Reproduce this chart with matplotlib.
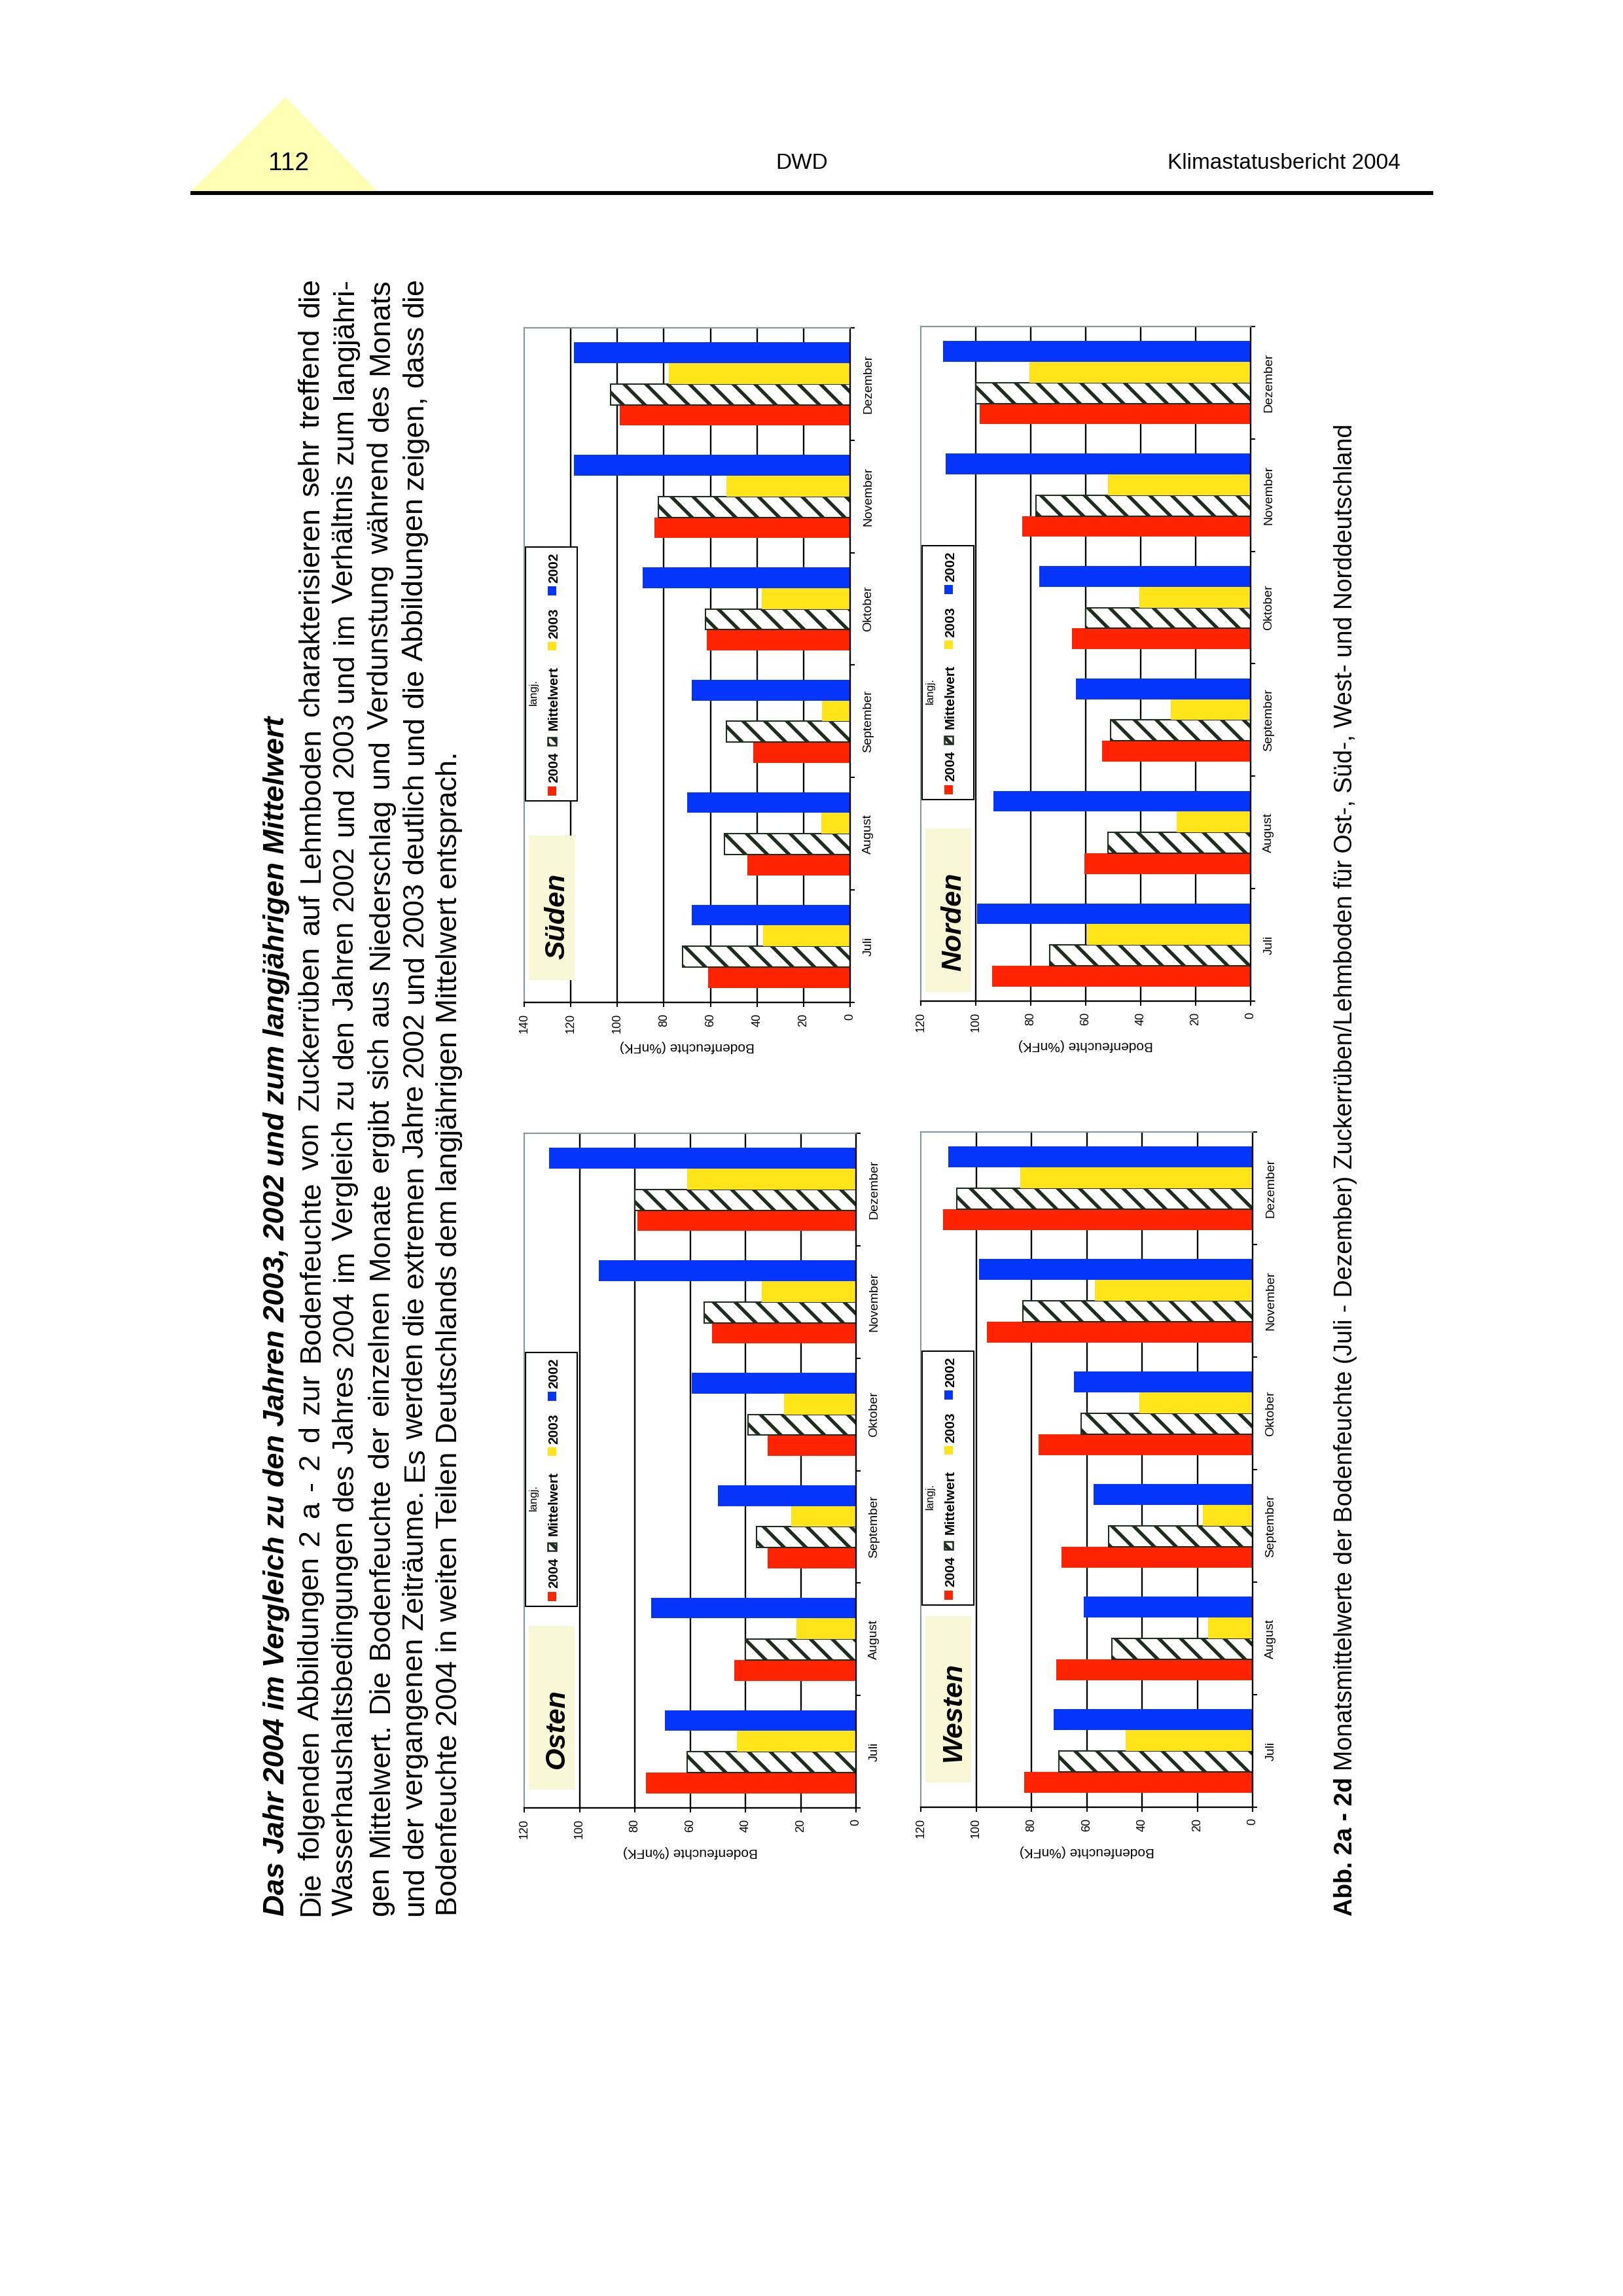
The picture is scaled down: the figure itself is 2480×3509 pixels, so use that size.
import matplotlib
matplotlib.use('Agg')
import matplotlib.pyplot as plt
import numpy as np
from matplotlib.patches import Rectangle, Polygon

# ---------------- data ----------------
months = ['Juli', 'August', 'September', 'Oktober', 'November', 'Dezember']
series_labels = ['2004', 'Mittelwert', '2003', '2002']

osten_2004 = [76, 44, 32, 32, 52, 79]
osten_mittel = [61, 40, 36, 39, 55, 80]
osten_2003 = [43, 21.5, 23.5, 26, 34, 61]
osten_2002 = [69, 74, 50, 59.5, 93, 111]

sueden_2004 = [61, 44, 41.5, 61.5, 84, 99]
sueden_mittel = [72, 54, 53, 62, 82.5, 103]
sueden_2003 = [37.5, 12.5, 12, 38, 53, 78]
sueden_2002 = [68, 70, 68, 89, 118.5, 118.5]

westen_2004 = [82.5, 71, 69, 77.5, 96, 112]
westen_mittel = [70, 51, 52, 62, 83, 107]
westen_2003 = [46, 16, 18, 41, 57, 84]
westen_2002 = [72, 61, 57.5, 64.5, 99, 110]

norden_2004 = [94, 60.5, 54, 65, 83, 98.5]
norden_mittel = [73, 52, 51, 60, 78, 100]
norden_2003 = [59.5, 27, 29, 40.5, 52, 80.5]
norden_2002 = [99.5, 93.5, 63.5, 77, 111, 112]

ticks_120 = [0, 20, 40, 60, 80, 100, 120]
ticks_140 = [0, 20, 40, 60, 80, 100, 120, 140]

header_left = '112'
header_mid = 'DWD'
header_right = 'Klimastatusbericht 2004'
title = 'Das Jahr 2004 im Vergleich zu den Jahren 2003, 2002 und zum langjährigen Mittelwert'
body_lines = [
    'Die folgenden Abbildungen 2 a - 2 d zur Bodenfeuchte von Zuckerrüben auf Lehmboden charakterisieren sehr treffend die',
    'Wasserhaushaltsbedingungen des Jahres 2004 im Vergleich zu den Jahren 2002 und 2003 und im Verhältnis zum langjähri-',
    'gen Mittelwert. Die Bodenfeuchte der einzelnen Monate ergibt sich aus Niederschlag und Verdunstung während des Monats',
    'und der vergangenen Zeiträume. Es werden die extremen Jahre 2002 und 2003 deutlich und die Abbildungen zeigen, dass die',
    'Bodenfeuchte 2004 in weiten Teilen Deutschlands dem langjährigen Mittelwert entsprach.',
]
caption_bold = 'Abb. 2a - 2d'
caption_rest = 'Monatsmittelwerte der Bodenfeuchte (Juli - Dezember) Zuckerrüben/Lehmboden für Ost-, Süd-, West- und Norddeutschland'
axis_label = 'Bodenfeuchte (%nFK)'

# ---------------- style ----------------
C_RED = '#FF2400'
C_YEL = '#FFE41A'
C_BLUE = '#0535FA'
C_HATCH = '#1E2D1E'
C_GRAY = '#8C979B'
C_BOX = '#F8F8D6'
C_TRI = '#FFFFB3'

plt.rcParams['font.family'] = ['Liberation Sans', 'DejaVu Sans']
plt.rcParams['hatch.linewidth'] = 3.8

W, H = 2480, 3509
fig = plt.figure(figsize=(24.8, 35.09), dpi=100)
fig.patch.set_facecolor('white')
renderer = fig.canvas.get_renderer()


def fx(x):
    return x / W


def fy(y):
    return 1 - y / H


def rect_px(x0, y0, x1, y1, **kw):
    r = Rectangle((fx(x0), fy(y1)), (x1 - x0) / W, (y1 - y0) / H,
                  transform=fig.transFigure, **kw)
    fig.add_artist(r)
    return r


def text_len(s, **kw):
    t = fig.text(0, 0, s, **kw)
    w = t.get_window_extent(renderer=renderer).width
    t.remove()
    return w


def vtext(xb, ystart, s, **kw):
    return fig.text(fx(xb), fy(ystart), s, rotation=90, rotation_mode='anchor',
                    ha='left', va='baseline', **kw)


def vjustify(xb, ystart, yend, s, **kw):
    words = s.split(' ')
    ws = [text_len(w_, **kw) for w_ in words]
    gap = ((ystart - yend) - sum(ws)) / (len(words) - 1)
    pos = ystart
    for w_, wl in zip(words, ws):
        vtext(xb, pos, w_, **kw)
        pos -= wl + gap


# ---------------- header ----------------
fig.add_artist(Polygon([(fx(291), fy(293)), (fx(577), fy(293)), (fx(436), fy(148))],
                       closed=True, transform=fig.transFigure,
                       facecolor=C_TRI, edgecolor='none', zorder=1))
rect_px(291, 292, 2190, 298, facecolor='black', edgecolor='none')
fig.text(fx(441), fy(260), header_left, fontsize=28, ha='center', va='baseline')
fig.text(fx(1225), fy(258), header_mid, fontsize=24, ha='center', va='baseline')
fig.text(fx(2140), fy(258), header_right, fontsize=24, ha='right', va='baseline')

# ---------------- body text (rotated) ----------------
base = 30
body_size = base * 1775 / text_len(body_lines[-1], fontsize=base)
title_size = base * 1831 / text_len(title, fontsize=base, fontweight='bold', fontstyle='italic')
y_start = 2928
line_x = [474, 526, 580, 633, 685]
vtext(421 + 13, y_start, title, fontsize=title_size, fontweight='bold', fontstyle='italic')
for i, (lx, ln) in enumerate(zip(line_x, body_lines)):
    if i < len(body_lines) - 1:
        vjustify(lx + 13, y_start, 425, ln, fontsize=body_size)
    else:
        vtext(lx + 13, y_start, ln, fontsize=body_size)

# caption
cap_b = text_len(caption_bold + ' ', fontsize=base, fontweight='bold')
cap_r = text_len(caption_rest, fontsize=base)
cap_size = base * (2928 - 649) / (cap_b + cap_r)
cb = text_len(caption_bold + ' ', fontsize=cap_size, fontweight='bold')
vtext(2055 + 11, y_start, caption_bold, fontsize=cap_size, fontweight='bold')
vtext(2055 + 11, y_start - cb, caption_rest, fontsize=cap_size)


# ---------------- charts ----------------
def draw_chart(ox, oy, w, h, ticks, name, box_top, box_bot, v2004, vmit, v2003, v2002):
    ax = fig.add_axes([fx(ox), fy(oy + h), w / W, h / H])
    ax.set_facecolor('white')
    y = np.arange(len(months))
    hb = 0.185
    ax.barh(y - 1.5 * hb, v2004, height=hb, color=C_RED, lw=0, zorder=2)
    ax.barh(y - 0.5 * hb, vmit, height=hb, facecolor='white', edgecolor=C_HATCH,
            hatch='\\', lw=1.5, zorder=2)
    ax.barh(y + 0.5 * hb, v2003, height=hb, color=C_YEL, lw=0, zorder=2)
    ax.barh(y + 1.5 * hb, v2002, height=hb, color=C_BLUE, lw=0, zorder=2)
    for g in ticks[1:-1]:
        ax.axvline(g, color='black', lw=1.7, zorder=1)
    vmax = ticks[-1]
    ax.set_xlim(vmax, 0)
    ax.set_ylim(-0.5, len(months) - 0.5)
    for s in ['left', 'top']:
        ax.spines[s].set_color(C_GRAY)
        ax.spines[s].set_linewidth(1.6)
    for s in ['right', 'bottom']:
        ax.spines[s].set_color('black')
        ax.spines[s].set_linewidth(1.7)
    ax.xaxis.set_ticks_position('bottom')
    ax.yaxis.set_ticks_position('right')
    ax.set_xticks(ticks)
    ax.set_xticklabels([str(t) for t in ticks], rotation=90, fontsize=13)
    ax.tick_params(axis='x', direction='out', length=5, width=1.5, pad=7)
    ax.set_yticks(y)
    ax.set_yticklabels(months, rotation=90, va='center', fontsize=14)
    ax.tick_params(axis='y', which='major', length=0, pad=14)
    ax.set_yticks(np.arange(-0.5, len(months), 1.0), minor=True)
    ax.tick_params(axis='y', which='minor', direction='out', length=5, width=1.5,
                   right=True, left=False)
    ax.set_xlabel(axis_label, rotation=180, fontsize=15, labelpad=8)

    # legend (drawn rotated, in page pixels relative to plot origin)
    rect_px(ox + 2, oy + 335, ox + 81, oy + 723, facecolor='white',
            edgecolor='black', lw=1.5, zorder=3)
    mk = [(701, 715, C_RED, None), (626, 638, 'white', '\\\\'),
          (480, 493, C_YEL, None), (395, 409, C_BLUE, None)]
    tstart = [695, 615, 475, 390]
    for (m0, m1, col, hat), ts, lab in zip(mk, tstart, series_labels):
        if hat:
            rect_px(ox + 36, oy + m0, ox + 49, oy + m1, facecolor='white',
                    edgecolor=C_HATCH, hatch=hat, lw=1.8, zorder=4)
        else:
            rect_px(ox + 36, oy + m0, ox + 49, oy + m1, facecolor=col,
                    edgecolor='none', zorder=4)
        vtext(ox + 51, oy + ts, lab, fontsize=15, fontweight='bold', zorder=5)
    vtext(ox + 19, oy + 577, 'langj.', fontsize=12, zorder=5)

    # region label box
    rect_px(ox + 7, oy + box_top, ox + 77, oy + box_bot, facecolor=C_BOX,
            edgecolor='none', zorder=3)
    vtext(ox + 61, oy + box_bot - 32, name, fontsize=31, fontweight='bold',
          fontstyle='italic', zorder=5)
    return ax


draw_chart(801, 1732, 507, 1031, ticks_120, 'Osten', 753, 1003,
           osten_2004, osten_mittel, osten_2003, osten_2002)
draw_chart(801, 501, 498, 1031, ticks_140, 'Süden', 776, 997,
           sueden_2004, sueden_mittel, sueden_2003, sueden_2002)
draw_chart(1407, 1730, 507, 1032, ticks_120, 'Westen', 740, 994,
           westen_2004, westen_mittel, westen_2003, westen_2002)
draw_chart(1407, 499, 504, 1031, ticks_120, 'Norden', 767, 1017,
           norden_2004, norden_mittel, norden_2003, norden_2002)

fig.savefig('out.png', dpi=100, facecolor='white')
